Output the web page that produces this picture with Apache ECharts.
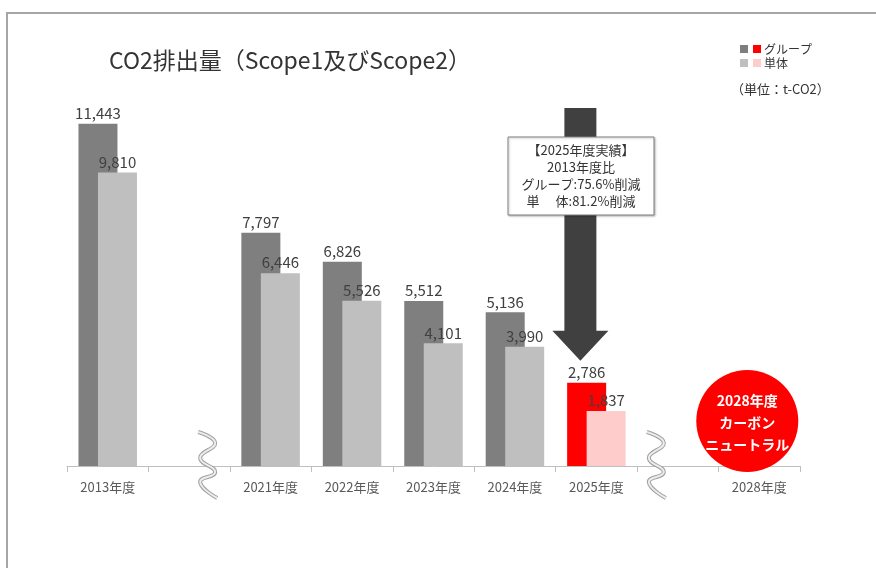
<!DOCTYPE html>
<html>
<head>
<meta charset="utf-8">
<script src="https://cdn.jsdelivr.net/npm/echarts@6/dist/echarts.min.js"></script>
<style>
  html, body { margin: 0; padding: 0; background: #fff; }
  #chart { width: 876px; height: 568px; }
</style>
</head>
<body>
<div id="chart"></div>
<script>
// 年度（空欄は省略区間）
const categories = ['2013年度', '', '2021年度', '2022年度', '2023年度', '2024年度', '2025年度', '', '2028年度'];
const groupValues = [11443, null, 7797, 6826, 5512, 5136, 2786, null, null];
const unitValues = [9810, null, 6446, 5526, 4101, 3990, 1837, null, null];
const highlightIndex = 6; // 2025年度
const breakIndexes = [1, 7];
const noteLines = ['【2025年度実績】', '2013年度比', 'グループ:75.6%削減', '単　 体:81.2%削減'];
const circleLines = ['2028年度', 'カーボン', 'ニュートラル'];

const FONT = '"Noto Sans CJK JP", "Noto Sans", sans-serif';
const GRAY = '#7f7f7f';
const LIGHT = '#bfbfbf';
const RED = '#ff0000';
const PINK = '#ffcccc';

const chart = echarts.init(document.getElementById('chart'));

function fmt(p) {
  return p.value == null ? '' : Number(p.value).toLocaleString('en-US');
}

const options = {
  backgroundColor: '#fff',
  textStyle: { fontFamily: FONT },
  title: {
    text: 'CO2排出量（Scope1及びScope2）',
    left: 104,
    top: 44,
    textStyle: { fontSize: 23, fontWeight: 'normal', color: '#333', fontFamily: FONT },
  },
  legend: {
    orient: 'vertical',
    left: 735,
    top: 38,
    itemWidth: 8,
    itemHeight: 8,
    itemGap: 2,
    icon: 'rect',
    data: ['グループ', '単体'],
    formatter: (name) => (name === 'グループ' ? '{r|}{t|' + name + '}' : '{p|}{t|' + name + '}'),
    textStyle: {
      fontFamily: FONT,
      fontSize: 12,
      color: '#333',
      rich: {
        r: { width: 8, height: 8, backgroundColor: RED },
        p: { width: 8, height: 8, backgroundColor: PINK },
        t: { fontSize: 12, color: '#333', padding: [0, 0, 0, 3], fontFamily: FONT },
      },
    },
  },
  grid: {
    left: 67,
    right: 76,
    top: 107,
    bottom: 102,
  },
  xAxis: {
    type: 'category',
    data: categories,
    axisLine: { lineStyle: { color: '#bfbfbf', width: 1 } },
    axisTick: { show: true, interval: 0, length: 6, lineStyle: { color: '#bfbfbf' } },
    axisLabel: { interval: 0, margin: 15, fontSize: 13, color: '#595959', fontFamily: FONT },
  },
  yAxis: {
    type: 'value',
    min: 0,
    max: 12000,
    show: false,
    splitLine: { show: false },
  },
  series: [
    {
      name: 'グループ',
      type: 'bar',
      barWidth: 39,
      barGap: '-50%',
      itemStyle: { color: GRAY },
      data: groupValues.map((v, i) => (i === highlightIndex ? { value: v, itemStyle: { color: RED } } : v)),
      label: { show: true, position: 'top', distance: 3, formatter: fmt, fontSize: 15, color: '#404040', fontFamily: FONT },
    },
    {
      name: '単体',
      type: 'bar',
      barWidth: 39,
      barGap: '-50%',
      itemStyle: { color: LIGHT },
      data: unitValues.map((v, i) => (i === highlightIndex ? { value: v, itemStyle: { color: PINK } } : v)),
      label: { show: true, position: 'top', distance: 3, formatter: fmt, fontSize: 15, color: '#404040', fontFamily: FONT },
    },
  ],
};

chart.setOption(options);

// 装飾（枠・省略記号・矢印・注記・円）
function decorate() {
  const axisY = chart.convertToPixel({ yAxisIndex: 0 }, 0);
  const graphics = [];

  // 外枠
  graphics.push({
    type: 'polyline',
    shape: { points: [[7, 568], [7, 13], [876, 13]] },
    style: { stroke: '#a6a6a6', lineWidth: 2, fill: null },
    z: 1,
  });

  // 省略記号
  const breakShift = [18, -22];
  breakIndexes.forEach((idx, k) => {
    const cx = chart.convertToPixel({ xAxisIndex: 0 }, idx) + breakShift[k];
    const pts = [[-9, -34], [8, -23], [-7, -8], [8, 6], [-7, 16], [10, 32]].map((p) => [cx + p[0], axisY + p[1]]);
    graphics.push({
      type: 'polyline',
      shape: { points: pts, smooth: 0.5 },
      style: { stroke: '#a0a0a0', lineWidth: 4, fill: null },
      z: 5,
    });
    graphics.push({
      type: 'polyline',
      shape: { points: pts, smooth: 0.5 },
      style: { stroke: '#ececec', lineWidth: 2, fill: null },
      z: 6,
    });
  });

  // 矢印
  const ax = chart.convertToPixel({ xAxisIndex: 0 }, highlightIndex) - 16;
  const tipY = chart.convertToPixel({ yAxisIndex: 0 }, groupValues[highlightIndex]) - 22;
  graphics.push({
    type: 'polygon',
    shape: {
      points: [
        [ax - 16, 108], [ax + 16, 108], [ax + 16, tipY - 30], [ax + 28, tipY - 30],
        [ax, tipY], [ax - 28, tipY - 30], [ax - 16, tipY - 30],
      ],
    },
    style: { fill: '#404040' },
    z: 5,
  });

  // 注記ボックス
  graphics.push({
    type: 'rect',
    shape: { x: 508, y: 137, width: 146, height: 78 },
    style: { fill: '#fff', stroke: '#808080', lineWidth: 1, shadowBlur: 2, shadowColor: 'rgba(0,0,0,0.25)', shadowOffsetX: 1, shadowOffsetY: 1 },
    z: 10,
  });
  graphics.push({
    type: 'text',
    x: 581,
    y: 142,
    style: {
      text: noteLines.join('\n'),
      align: 'center',
      verticalAlign: 'top',
      fontSize: 13,
      lineHeight: 17,
      fill: '#333',
      fontFamily: FONT,
    },
    z: 11,
  });

  // カーボンニュートラル円
  const cx2 = chart.convertToPixel({ xAxisIndex: 0 }, 8) - 12;
  const cy2 = axisY - 45;
  graphics.push({
    type: 'circle',
    shape: { cx: cx2, cy: cy2, r: 51 },
    style: { fill: RED },
    z: 10,
  });
  graphics.push({
    type: 'text',
    x: cx2,
    y: cy2 + 2,
    style: {
      text: circleLines.join('\n'),
      align: 'center',
      verticalAlign: 'middle',
      fontSize: 14,
      fontWeight: 'bold',
      lineHeight: 22,
      fill: '#fff',
      fontFamily: FONT,
    },
    z: 11,
  });

  // 単位
  graphics.push({
    type: 'text',
    x: 731,
    y: 83,
    style: { text: '（単位：t-CO2）', fontSize: 13, fill: '#333', fontFamily: FONT },
    z: 11,
  });

  chart.setOption({ graphic: graphics });
}

decorate();
</script>
</body>
</html>
